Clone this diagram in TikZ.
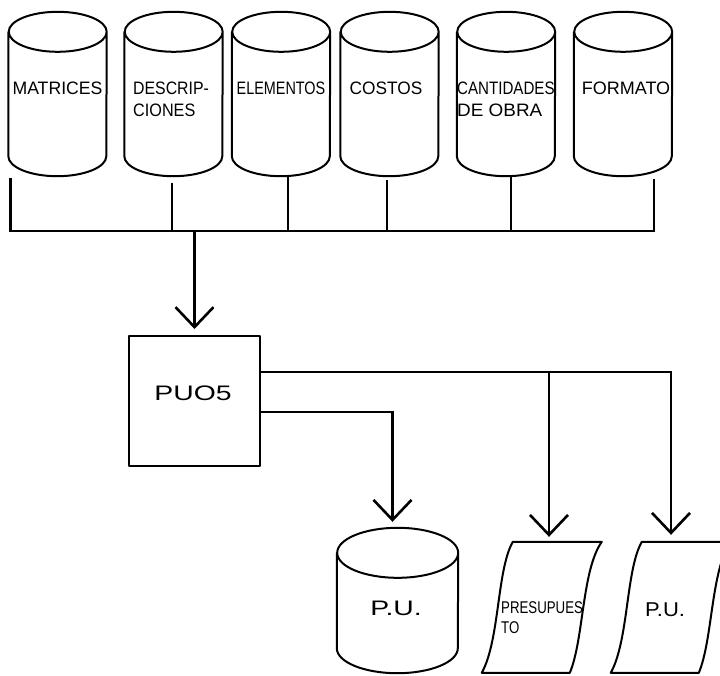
\documentclass[tikz,border=0pt]{standalone}
\usepackage{fontspec}
\usepackage{graphicx}
\setmainfont{Liberation Sans}
\usetikzlibrary{arrows.meta,calc}
\newcommand\drawcyl[3]{\draw[shp] ([yshift=-#3pt]#1.north west) -- ([yshift=#3pt]#1.south west) arc[start angle=180,end angle=360,x radius=#2pt,y radius=#3pt] -- ([yshift=-#3pt]#1.north east) arc[start angle=0,end angle=360,x radius=#2pt,y radius=#3pt];}
\newcommand\drawdoc[1]{\begin{scope}[shift={(#1.north west)}]
\draw[shp] (31,0) -- (120,0) .. controls (100,-28) and (102,-98) .. (88,-131) -- (0,-131) .. controls (18,-98) and (15,-28) .. (31,0) -- cycle;
\end{scope}}
\newcommand\sx[2]{\scalebox{#1}[1]{#2}}
\begin{document}
\begin{tikzpicture}[x=1pt,y=1pt,
  shp/.style={line width=2pt, line join=round},
  conn/.style={line width=2.6pt},
  arr/.style={conn, -{Straight Barb[length=20pt,width=38pt]}},
  body/.style={inner sep=0pt, minimum width=98pt, minimum height=164pt},
  lbl/.style={inner sep=0pt, align=left, font=\fontsize{18}{22}\selectfont}]
\useasboundingbox (0,0) rectangle (720,-675);
\clip (0,0) rectangle (720,-675);
% top cylinders
\node[body] (c1) at (57.5,-94) {};
\node[body] (c2) at (173.5,-94) {};
\node[body] (c3) at (281,-94) {};
\node[body] (c4) at (389.5,-94) {};
\node[body] (c5) at (506,-94) {};
\node[body] (c6) at (623,-94) {};
\foreach \c in {c1,c2,c3,c4,c5,c6}{\drawcyl{\c}{49}{20}}
\node[lbl] (t1) at (57.5,-88) {\sx{0.98}{MATRICES}};
\node[lbl,anchor=west] (t2) at (133,-99) {\sx{0.88}{DESCRIP-}\\\sx{0.9}{CIONES}};
\node[lbl] (t3) at (281,-88) {\sx{0.8}{ELEMENTOS}};
\node[lbl] (t4) at (386,-88) {\sx{0.96}{COSTOS}};
\node[lbl,anchor=west] (t5) at (457,-99) {\sx{0.84}{CANTIDADES}\\\sx{1.05}{DE OBRA}};
\node[lbl] (t6) at (626,-88) {FORMATO};
% bus
\coordinate (bus) at (0,-231);
\coordinate (v1) at ([xshift=2pt,yshift=-2pt]c1.south west);
\coordinate (v2) at ([xshift=-1.5pt,yshift=-7pt]c2.south);
\coordinate (v3) at ([xshift=7pt,yshift=-1pt]c3.south);
\coordinate (v4) at ([xshift=-2.5pt,yshift=-4pt]c4.south);
\coordinate (v5) at ([xshift=5pt,yshift=-1pt]c5.south);
\coordinate (v6) at ([xshift=31pt,yshift=-3pt]c6.south);
\draw[conn] (v1) -- (v1 |- bus) -- (v6 |- bus) -- (v6);
\foreach \v in {v2,v3,v4,v5}{\draw[conn] (\v) -- (\v |- bus);}
% process box
\node[draw, shp, minimum width=131pt, minimum height=130pt, inner sep=0pt] (p) at (194.5,-401) {};
\node[lbl,font=\fontsize{21}{24}\selectfont] (pt) at (193,-393) {\sx{1.35}{PUO5}};
\draw[arr] (p.north |- bus) -- ([yshift=6pt]p.north);
% outputs
\node[inner sep=0pt, minimum width=121pt, minimum height=145pt] (pu) at (397.5,-600.5) {};
\drawcyl{pu}{60.5}{25}
\node[lbl,font=\fontsize{21}{24}\selectfont] (put) at (396,-608) {\sx{1.35}{P.U.}};
\node[inner sep=0pt, minimum width=120pt, minimum height=131pt] (d1) at (542,-607.5) {};
\node[inner sep=0pt, minimum width=120pt, minimum height=131pt] (d2) at (671,-607.5) {};
\drawdoc{d1}
\drawdoc{d2}
\node[lbl,font=\fontsize{17}{20}\selectfont,anchor=west] (d1t) at (501,-618) {\sx{0.78}{PRESUPUES}\\\sx{0.78}{TO}};
\node[lbl,font=\fontsize{20}{24}\selectfont] (d2t) at (665,-610) {\sx{1.1}{P.U.}};
\coordinate (o1) at ([yshift=29pt]p.east);
\coordinate (o2) at ([yshift=-11pt]p.east);
\coordinate (d1in) at ([xshift=7pt,yshift=5pt]d1.north);
\draw[arr] (o1) -| ([yshift=7pt]d2.north);
\draw[arr] (d1in |- o1) -- (d1in);
\draw[arr] (o2) -| ([xshift=-5pt,yshift=6pt]pu.north);
\end{tikzpicture}
\end{document}
